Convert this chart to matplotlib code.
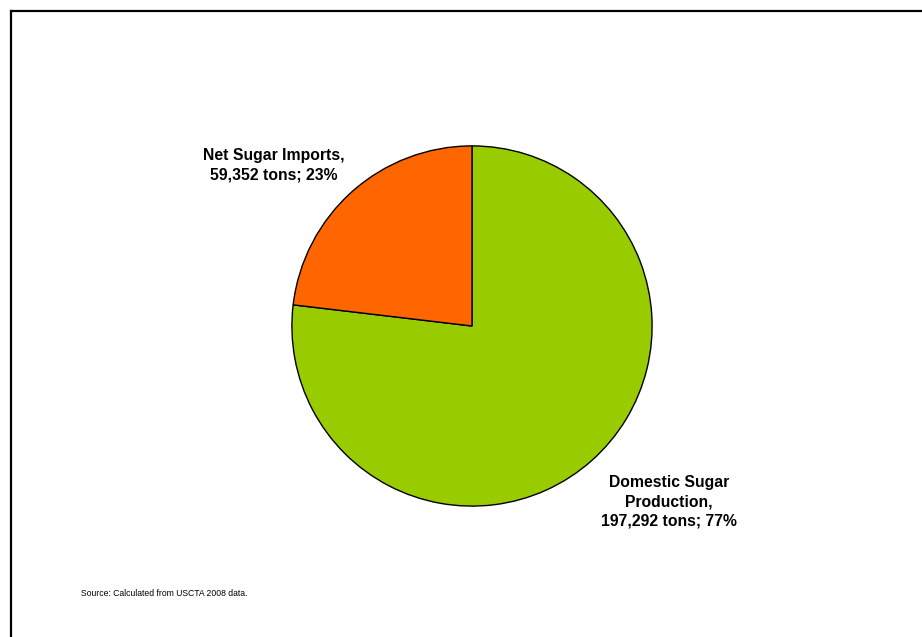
import matplotlib.pyplot as plt
from matplotlib.lines import Line2D

labels = ["Domestic Sugar\nProduction,\n197,292 tons; 77%", "Net Sugar Imports,\n59,352 tons; 23%"]
tons = [197292, 59352]
colors = ["#99CC00", "#FF6600"]

W, H = 922, 637
fig = plt.figure(figsize=(W / 100, H / 100), dpi=100)
fig.patch.set_facecolor("white")

# pie centred at about (472, 326) px with radius ~181 px
cx, cy, r = 472, 326, 181
ax = fig.add_axes([(cx - r) / W, (H - cy - r) / H, 2 * r / W, 2 * r / H])
ax.pie(tons, colors=colors, startangle=90, counterclock=False, radius=1,
       wedgeprops=dict(edgecolor="black", linewidth=1))
ax.set_xlim(-1.005, 1.005)
ax.set_ylim(-1.005, 1.005)
ax.set_aspect("equal")
ax.axis("off")

font = "Liberation Sans"
fig.text(669 / W, 1 - 502 / H, labels[0], ha="center", va="center",
         fontsize=11.3, fontweight="bold", family=font, linespacing=1.35)
fig.text(274 / W, 1 - 165 / H, labels[1], ha="center", va="center",
         fontsize=11.3, fontweight="bold", family=font, linespacing=1.35)
fig.text(81 / W, 1 - 593 / H, "Source: Calculated from USCTA 2008 data.",
         ha="left", va="center", fontsize=6.25, family=font)

# frame: only top and left edges are visible in the reference
fig.add_artist(Line2D([11 / W, 1.0], [1 - 11 / H, 1 - 11 / H], color="black", lw=1.6))
fig.add_artist(Line2D([11 / W, 11 / W], [0.0, 1 - 11 / H], color="black", lw=1.6))

fig.savefig("out.png", dpi=100)
